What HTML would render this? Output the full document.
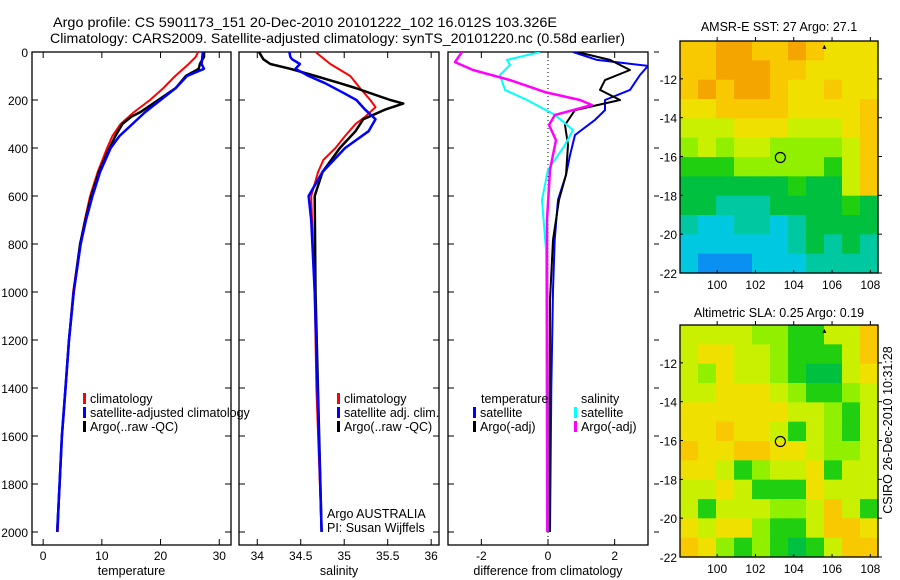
<!DOCTYPE html>
<html><head><meta charset="utf-8">
<style>
html,body{margin:0;padding:0;background:#fff;}
svg{display:block;font-family:"Liberation Sans",sans-serif;}
</style></head>
<body>
<svg id="fig" width="900" height="580" viewBox="0 0 900 580" xmlns="http://www.w3.org/2000/svg">
<rect width="900" height="580" fill="#fff"/>
<text x="53" y="27" font-size="14" textLength="504" lengthAdjust="spacingAndGlyphs">Argo profile: CS 5901173_151 20-Dec-2010 20101222_102 16.012S 103.326E</text>
<text x="50" y="43" font-size="14" textLength="575" lengthAdjust="spacingAndGlyphs">Climatology: CARS2009. Satellite-adjusted climatology: synTS_20101220.nc (0.58d earlier)</text>
<text x="779" y="31" font-size="12.5" text-anchor="middle">AMSR-E SST: 27 Argo: 27.1</text>
<text x="779" y="317" font-size="12.5" text-anchor="middle">Altimetric SLA: 0.25 Argo: 0.19</text>
<text x="0" y="0" font-size="12.5" text-anchor="middle" transform="translate(892,430) rotate(-90)">CSIRO 26-Dec-2010 10:31:28</text>
<g id="plots"></g>
</svg>
<script>
// ---- data ----
const tDepth = [0,20,50,100,150,200,250,300,350,400,500,600,700,800,1000,1200,1400,1600,1800,2000];
const tClim  = [26.4,26,24.8,22.5,20.5,18.2,15.5,13.2,11.8,10.9,9.3,8,7.1,6.3,5.1,4.4,3.8,3.2,2.8,2.5];
const tArgoDepth = [0,20,50,70,100,150,200,250,270,300,350,400,500,600,700,800,1000,1200,1400,1600,1800,2000];
const tArgo  = [27.4,27.4,26.7,26.5,24.3,22.6,19.6,16.6,15.0,13.5,12.3,11.3,9.5,8.2,7.2,6.3,5.2,4.4,3.8,3.2,2.8,2.4];
const tSatDepth = [0,50,70,100,150,200,250,300,350,400,500,600,700,800,1000,1200,1400,1600,1800,2000];
const tSat   = [27.2,27.0,27.4,24.5,22.6,20,17.4,15.2,13.0,11.5,9.7,8.4,7.3,6.4,5.2,4.4,3.8,3.2,2.8,2.4];

const sClimDepth = [0,50,100,150,200,230,270,300,350,400,450,500,600,800,1000,1400,2000];
const sClim = [34.67,34.84,35.07,35.18,35.3,35.36,35.24,35.13,35.01,34.9,34.76,34.70,34.62,34.64,34.66,34.68,34.74];
const sArgoDepth = [0,30,50,70,100,130,150,200,215,240,280,330,400,500,600,1000,2000];
const sArgo = [34.02,34.07,34.15,34.38,34.67,34.95,35.13,35.53,35.68,35.47,35.22,35.13,34.95,34.75,34.66,34.67,34.74];
const sSatDepth = [0,20,30,50,70,80,100,130,170,200,240,280,330,400,500,600,700,1000,2000];
const sSat = [34.37,34.38,34.40,34.49,34.44,34.49,34.59,34.78,34.99,35.14,35.24,35.36,35.28,35.01,34.75,34.59,34.62,34.66,34.74];

const dTSatDepth = [0,33,58,96,158,200,242,283,346,430,512,616,783,992,1400,2000];
const dTSat = [0.75,1.47,3.0,2.76,2.46,1.71,1.71,1.41,0.81,0.66,0.54,0.3,0.2,0.15,0.1,0.06];
const dTArgoDepth = [0,33,75,117,158,200,242,304,387,512,616,783,1033,1500,2000];
const dTArgo = [0.87,1.86,2.46,1.71,1.56,2.16,0.81,0.51,0.6,0.54,0.33,0.15,0.06,0.05,0.05];
const dSSatDepth = [0,33,54,96,158,200,262,325,387,491,616,825,1400,2000];
const dSSat = [-0.24,-1.23,-1.14,-1.44,-1.29,-0.63,0.21,0.75,0.51,0,-0.18,-0.06,-0.05,-0.03];
const dSArgoDepth = [0,42,75,117,167,200,221,262,304,367,491,700,1400,2000];
const dSArgo = [-2.58,-2.79,-2.25,-1.14,-0.09,0.96,1.32,0.21,0.03,0.24,0.06,-0.03,-0.02,-0.02];

const depthTicks = [0,200,400,600,800,1000,1200,1400,1600,1800,2000];
const tempTicks = [0,10,20,30];
const salTicks = [34,34.5,35,35.5,36];
const diffTicks = [-2,0,2];
const latTicks = [-12,-14,-16,-18,-20,-22];
const lonTicks = [100,102,104,106,108];

const sstGrid = [
[8,8,9,9,8,8,9,8,7,7,7],
[8,8,9,9,9,8,8,7,7,7,7],
[8,9,8,9,9,8,7,7,8,7,7],
[7,7,8,8,8,8,7,7,7,7,8],
[6,6,6,7,7,7,6,6,6,7,8],
[5,6,5,6,6,5,5,5,5,6,8],
[4,4,4,5,5,5,5,5,4,6,8],
[3,3,3,3,3,3,4,3,3,6,8],
[3,3,2,2,2,3,3,3,3,4,3],
[2,1,1,2,2,1,2,3,3,3,3],
[1,1,1,1,1,1,2,3,2,3,2],
[1,0,0,0,1,1,1,2,2,2,2]];
const slaGrid = [
[6,6,6,6,5,5,4,4,6,6,8],
[6,7,7,6,6,5,4,4,4,6,8],
[6,5,7,6,6,5,4,3,3,6,7],
[6,6,7,7,7,6,5,4,4,5,6],
[7,7,7,7,7,7,6,6,5,4,6],
[7,7,8,7,7,6,4,6,5,4,6],
[8,7,7,8,8,7,7,6,5,5,6],
[7,7,6,4,5,6,6,7,4,6,6],
[6,6,7,6,4,4,4,7,6,6,6],
[6,4,6,6,6,5,5,6,8,6,4],
[7,6,7,7,5,4,4,6,8,8,7],
[8,7,5,4,5,4,3,4,6,8,8]];
const argoLon = 103.3, argoLat = -16.05;

// ---- helpers ----
const NS="http://www.w3.org/2000/svg";
const root=document.getElementById('plots');
function mk(tag,attrs,parent){const e=document.createElementNS(NS,tag);for(const k in attrs)e.setAttribute(k,attrs[k]);(parent||root).appendChild(e);return e;}
const Y0=52, Y1=545;
const yD = d => 52 + d*0.24;

function panel(name,x0,x1,vmin,vmax,xticks,xlabel,showDepthLabels,rightOut){
  const g=mk('g',{});
  
  
  const sx=v=>x0+(v-vmin)/(vmax-vmin)*(x1-x0);
  const fr=mk('rect',{x:x0,y:Y0,width:x1-x0,height:Y1-Y0,fill:'none',stroke:'#000','stroke-width':1.3},g);
  
  
  xticks.forEach(t=>{
    const x=sx(t);
    mk('line',{x1:x,x2:x,y1:Y1,y2:Y1-6,stroke:'#000'},g);
    mk('line',{x1:x,x2:x,y1:Y0,y2:Y0+6,stroke:'#000'},g);
    const tx=mk('text',{x:x,y:Y1+15,'font-size':12,'text-anchor':'middle'},g);
    tx.textContent=String(t);
    
    
  });
  depthTicks.forEach(d=>{
    const y=yD(d);
    mk('line',{x1:x0,x2:x0+6,y1:y,y2:y,stroke:'#000'},g);
    if(rightOut) mk('line',{x1:x1+6,x2:x1+11,y1:y,y2:y,stroke:'#000'},g);
    else mk('line',{x1:x1,x2:x1-6,y1:y,y2:y,stroke:'#000'},g);
    if(showDepthLabels){
      const tx=mk('text',{x:x0-4,y:y+5,'font-size':12,'text-anchor':'end'},g);
      tx.textContent=String(d);
      
      
    }
  });
  const xl=mk('text',{x:(x0+x1)/2,y:575,'font-size':12.5,'text-anchor':'middle'},g);
  xl.textContent=xlabel;
  
  
  return {g,sx};
}
function line(p,depths,vals,color,w,nm){
  const pts=depths.map((d,i)=>p.sx(vals[i]).toFixed(1)+','+yD(d).toFixed(1)).join(' ');
  const pl=mk('polyline',{points:pts,fill:'none',stroke:color,'stroke-width':w,'stroke-linejoin':'round'},p.g);
  
  
}
function legend(g,x,y,color,label,nm){
  if(color) mk('rect',{x:x,y:y-10,width:3,height:11,fill:color},g);
  const t=mk('text',{x:x+7,y:y,'font-size':12.5},g);
  t.textContent=label;
  
  
}

// panel 1: temperature
const p1=panel('temperature-panel',32,231,-1.9,32,tempTicks,'temperature',true,false);
line(p1,tDepth,tClim,'#f00',2,'temp-climatology-line');
line(p1,tArgoDepth,tArgo,'#000',2.5,'temp-argo-line');
line(p1,tSatDepth,tSat,'#00f',2.5,'temp-satellite-line');
legend(p1.g,83,403,'#f00','climatology','legend-climatology');
legend(p1.g,83,417,'#00f','satellite-adjusted climatology','legend-satellite-adjusted');
legend(p1.g,83,431,'#000','Argo(..raw -QC)','legend-argo');

// panel 2: salinity
const p2=panel('salinity-panel',239,439,33.79,36.09,salTicks,'salinity',false,false);
line(p2,sClimDepth,sClim,'#f00',2,'sal-climatology-line');
line(p2,sArgoDepth,sArgo,'#000',2.5,'sal-argo-line');
line(p2,sSatDepth,sSat,'#00f',2.5,'sal-satellite-line');
legend(p2.g,337,403,'#f00','climatology','legend-sal-climatology');
legend(p2.g,337,417,'#00f','satellite adj. clim.','legend-sal-satellite');
legend(p2.g,337,431,'#000','Argo(..raw -QC)','legend-sal-argo');
legend(p2.g,320,518,null,'Argo AUSTRALIA','argo-australia-label');
legend(p2.g,320,532,null,'PI: Susan Wijffels','pi-label');

// panel 3: differences
const p3=panel('difference-panel',448,648,-3,3,diffTicks,'difference from climatology',false,true);
const zl=mk('line',{x1:p3.sx(0),x2:p3.sx(0),y1:Y0,y2:Y1,stroke:'#000','stroke-dasharray':'1,3'},p3.g);


const clip=mk('clipPath',{id:'c3'},p3.g);mk('rect',{x:448,y:Y0,width:200,height:Y1-Y0},clip);
const lg=mk('g',{'clip-path':'url(#c3)'},p3.g);
const p3c={g:lg,sx:p3.sx};
line(p3c,dTSatDepth,dTSat,'#00f',2,'diff-temp-satellite-line');
line(p3c,dTArgoDepth,dTArgo,'#000',2,'diff-temp-argo-line');
line(p3c,dSSatDepth,dSSat,'#0ff',2,'diff-sal-satellite-line');
line(p3c,dSArgoDepth,dSArgo,'#f0f',2.5,'diff-sal-argo-line');
legend(p3.g,474,403,null,'temperature','legend-temperature-heading');
legend(p3.g,473,417,'#00f','satellite','legend-diff-temp-satellite');
legend(p3.g,473,431,'#000','Argo(-adj)','legend-diff-temp-argo');
legend(p3.g,574,403,null,'salinity','legend-salinity-heading');
legend(p3.g,574,417,'#0ff','satellite','legend-diff-sal-satellite');
legend(p3.g,574,431,'#f0f','Argo(-adj)','legend-diff-sal-argo');

// maps
const cmap=['#0a90f0','#00c8e0','#00c8a0','#00c040','#20d010','#90f000','#c8f000','#f0e000','#f8c800','#f5a500'];
function map(name,grid,y0){
  const x0=680,x1=878,y1=y0+232;
  const lon0=98.06,lon1=108.4,lat0=-10.05,lat1=-22;
  const sx=v=>x0+(v-lon0)/(lon1-lon0)*(x1-x0);
  const sy=v=>y0+(v-lat0)/(lat1-lat0)*(y1-y0);
  const g=mk('g',{});
  
  
  const rows=grid.length, cols=grid[0].length;
  const cw=(x1-x0)/cols, ch=(y1-y0)/rows;
  grid.forEach((row,r)=>row.forEach((v,c)=>{
    const cell=mk('rect',{x:(x0+c*cw).toFixed(2),y:(y0+r*ch).toFixed(2),width:(cw+0.6).toFixed(2),height:(ch+0.6).toFixed(2),fill:cmap[v]},g);
    
    
  }));
  mk('rect',{x:x0,y:y0,width:x1-x0,height:y1-y0,fill:'none',stroke:'#000','stroke-width':1.3},g);
  latTicks.forEach(t=>{
    const y=sy(t);
    mk('line',{x1:x1,x2:x1+4,y1:y,y2:y,stroke:'#000'},g);
    mk('line',{x1:x0,x2:x0+3,y1:y,y2:y,stroke:'#000'},g);
    const tx=mk('text',{x:x0-3,y:y+5,'font-size':12,'text-anchor':'end'},g);
    tx.textContent=String(t);
    
    
  });
  lonTicks.forEach(t=>{
    const x=sx(t);
    mk('line',{x1:x,x2:x,y1:y0,y2:y0-4,stroke:'#000'},g);
    mk('line',{x1:x,x2:x,y1:y1,y2:y1-3,stroke:'#000'},g);
    const tx=mk('text',{x:x,y:y1+16,'font-size':12,'text-anchor':'middle'},g);
    tx.textContent=String(t);
    
    
  });
  const c=mk('circle',{cx:sx(argoLon),cy:sy(argoLat),r:5,fill:'none',stroke:'#000','stroke-width':1.2},g);
  
  
  const tx=sx(105.6),ty=sy(-10.35);
  mk('polygon',{points:`${tx-2},${ty+2} ${tx+2},${ty+2} ${tx},${ty-2}`,fill:'#000'},g);
}
map('sst-map',sstGrid,41);
map('sla-map',slaGrid,325);
</script>
</body></html>
